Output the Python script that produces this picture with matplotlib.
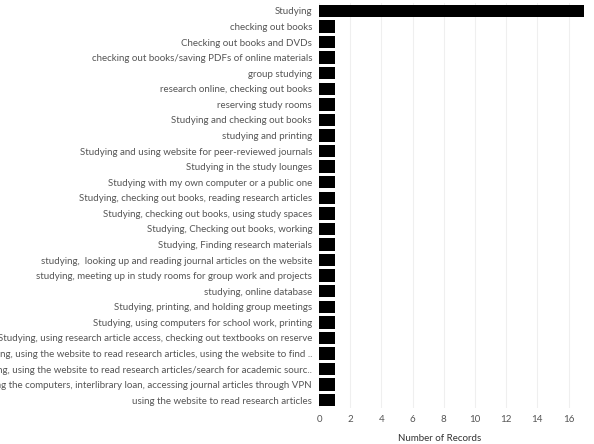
import matplotlib
matplotlib.use("Agg")
import matplotlib.pyplot as plt

# survey answers, in the order shown top to bottom
answers = [
    "Studying",
    "checking out books",
    "Checking out books and DVDs",
    "checking out books/saving PDFs of online materials",
    "group studying",
    "research online, checking out books",
    "reserving study rooms",
    "Studying and checking out books",
    "studying and printing",
    "Studying and using website for peer-reviewed journals",
    "Studying in the study lounges",
    "Studying with my own computer or a public one",
    "Studying, checking out books, reading research articles",
    "Studying, checking out books, using study spaces",
    "Studying, Checking out books, working",
    "Studying, Finding research materials",
    "studying,  looking up and reading journal articles on the website",
    "studying, meeting up in study rooms for group work and projects",
    "studying, online database",
    "Studying, printing, and holding group meetings",
    "Studying, using computers for school work, printing",
    "Studying, using research article access, checking out textbooks on reserve",
    "Studying, using the website to read research articles, using the website to find ..",
    "Studying, using the website to read research articles/search for academic sourc..",
    "Using the computers, interlibrary loan, accessing journal articles through VPN",
    "using the website to read research articles",
]
records = [17, 1, 1, 1, 1, 1, 1, 1, 1, 1, 1, 1, 1, 1, 1, 1, 1, 1, 1, 1, 1, 1, 1, 1, 1, 1]
xticks = [0, 2, 4, 6, 8, 10, 12, 14, 16, 18]

plt.rcParams['font.family'] = ['Lato', 'DejaVu Sans']

W, H = 594, 444
fig = plt.figure(figsize=(W / 100, H / 100), dpi=100)
x0 = 319
ppu = 15.6
xmax = 18.4
ax = fig.add_axes([x0 / W, 1 - 408 / H, xmax * ppu / W, (408 - 3.2) / H])

ypos = list(range(len(answers)))
ax.barh(ypos, records, height=0.8, color="black", zorder=3)
ax.set_ylim(len(answers) - 0.5, -0.5)
ax.set_xlim(0, xmax)

ax.set_yticks(ypos)
ax.set_yticklabels(answers, fontsize=7.0, color="#555555")
ax.set_xticks(xticks)
ax.set_xticklabels([str(t) for t in xticks], fontsize=7.0, color="#555555")
ax.tick_params(axis="both", length=0)
ax.tick_params(axis="y", pad=5)
ax.tick_params(axis="x", pad=5)
ax.grid(axis="x", color="#efefef", linewidth=0.8, zorder=0)
for s in ax.spines.values():
    s.set_visible(False)

ax.set_xlabel("Number of Records", fontsize=7.0, color="#333333")
ax.xaxis.set_label_coords((440 - x0) / (xmax * ppu), -0.065)

fig.savefig("out.png", dpi=100)
